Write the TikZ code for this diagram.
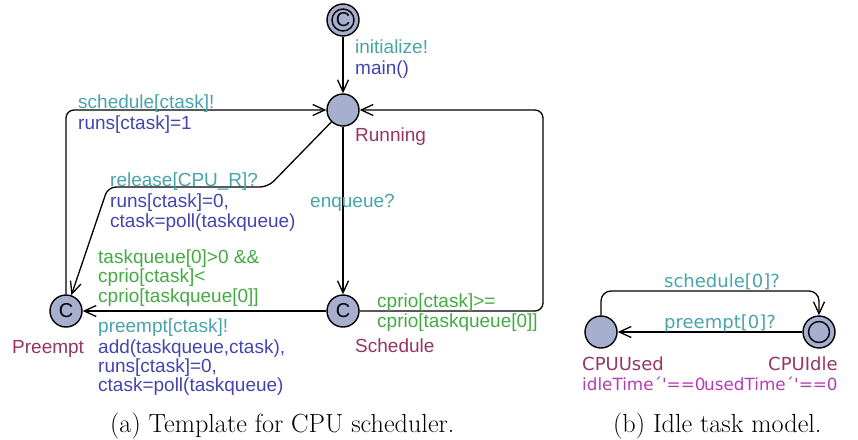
\documentclass[tikz,border=0pt]{standalone}
\usepackage{fontspec}
\newfontfamily\arialf{Liberation Sans}
\newfontfamily\dvs{DejaVu Sans}
\usetikzlibrary{arrows.meta}
\definecolor{sync}{RGB}{72,164,170}
\definecolor{assign}{RGB}{68,68,176}
\definecolor{guard}{RGB}{68,170,68}
\definecolor{lname}{RGB}{150,52,100}
\definecolor{inv}{RGB}{180,60,180}
\definecolor{lfill}{RGB}{167,175,207}
\tikzset{
  loc/.style={circle, draw, line width=1.4pt, fill=lfill, minimum size=32pt, inner sep=0pt},
  lbl/.style={anchor=base west, inner sep=0pt, font=\arialf\fontsize{19}{20}\selectfont},
  rlbl/.style={anchor=base west, inner sep=0pt, font=\dvs\fontsize{18}{20}\selectfont},
  invlbl/.style={anchor=base west, inner sep=0pt, text=inv, font=\dvs\fontsize{16.8}{20}\selectfont},
  captxt/.style={anchor=base west, inner sep=0pt, font=\fontsize{26.2}{30}\selectfont},
  conn/.style={draw, line width=1.3pt, -{Straight Barb[length=12pt,width=11pt,line width=1.3pt]}, rounded corners=8pt},
  ctext/.style={font=\arialf\fontsize{20}{20}\selectfont}
}
\begin{document}
\begin{tikzpicture}[x=1pt,y=-1pt]
\useasboundingbox (0,0) rectangle (858,439);
% locations
\node[loc] (init) at (343,20) {};
\draw[line width=1.4pt] (init.center) circle (11pt);
\node[ctext] at (init) {C};
\node[loc] (run) at (343,110) {};
\node[loc,ctext] (pre) at (66,311) {C};
\node[loc,ctext] (sch) at (343,311) {C};
\node[loc] (used) at (601,332) {};
\node[loc] (idle) at (819,332) {};
\draw[line width=1.4pt] (idle.center) circle (10.5pt);
% nails
\coordinate (r1) at (268,187);
\coordinate (r2) at (108,187);
\coordinate (s1) at (543,311);
\coordinate (s2) at (543,110);
\coordinate (u1) at (601,291);
\coordinate (u2) at (819,291);
% edges
\draw[conn] (init) -- (run);
\draw[conn] (pre) |- (run);
\draw[conn] (run) -- (r1) -- (r2) -- (pre);
\draw[conn] (run) -- (sch);
\draw[conn] (sch) -- (pre);
\draw[conn] (sch) -- (s1) -- (s2) -- (run);
\draw[conn,rounded corners=10pt] (used) -- (u1) -- (u2) -- (idle);
\draw[conn] (idle) -- (used);
% labels left
\node[lbl,sync] (l1) at (355,53) {initialize!};
\node[lbl,assign] (l2) at (355,74) {main()};
\node[lbl,lname] (l3) at (355,141) {Running};
\node[lbl,sync] (l4) at (78,108) {schedule[ctask]!};
\node[lbl,assign] (l5) at (78,129) {runs[ctask]=1};
\node[lbl,sync] (l6) at (110,186) {release[CPU\_R]?};
\node[lbl,assign] (l7) at (110,207) {runs[ctask]=0,};
\node[lbl,assign] (l8) at (110,227) {ctask=poll(taskqueue)};
\node[lbl,sync] (l9) at (310,207) {enqueue?};
\node[lbl,guard] (l10) at (98,263) {taskqueue[0]>0 \&\&};
\node[lbl,guard] (l11) at (98,282) {cprio[ctask]<};
\node[lbl,guard] (l12) at (98,302) {cprio[taskqueue[0]]};
\node[lbl,sync] (l13) at (98,332) {preempt[ctask]!};
\node[lbl,assign] (l14) at (98,353) {add(taskqueue,ctask),};
\node[lbl,assign] (l15) at (98,372) {runs[ctask]=0,};
\node[lbl,assign] (l16) at (98,391) {ctask=poll(taskqueue)};
\node[lbl,lname] (l17) at (12,353) {Preempt};
\node[lbl,guard] (l18) at (377,307) {cprio[ctask]>=};
\node[lbl,guard] (l19) at (377,327) {cprio[taskqueue[0]]};
\node[lbl,lname] (l20) at (355,352) {Schedule};
% labels right
\node[rlbl,sync] (m1) at (664,287) {schedule[0]?};
\node[rlbl,sync] (m2) at (664,328) {preempt[0]?};
\node[rlbl,lname] (m3) at (582,370) {CPUUsed};
\node[rlbl,lname] (m4) at (768,370) {CPUIdle};
\node[invlbl] (m5) at (582,390) {idleTime´'==0};
\node[invlbl] (m6) at (704,390) {usedTime´'==0};
% captions
\node[captxt] (c1) at (110,432) {(a) Template for CPU scheduler.};
\node[captxt] (c2) at (613,432) {(b) Idle task model.};
\end{tikzpicture}
\end{document}
